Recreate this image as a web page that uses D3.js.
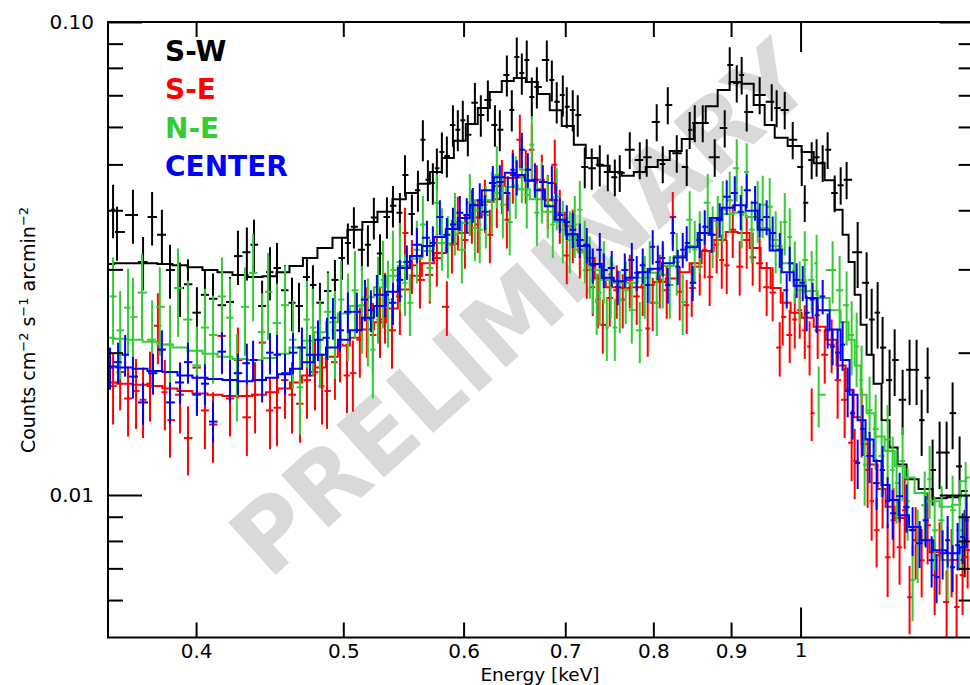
<!DOCTYPE html>
<html>
<head>
<meta charset="utf-8">
<script src="https://cdn.jsdelivr.net/npm/d3@7"></script>
<style>
  body { margin: 0; background: #fff; }
  svg { display: block; font-family: "DejaVu Sans", sans-serif; }
</style>
</head>
<body>
<div id="chart"></div>
<script>
// Spectra: [energy keV, counts, 1-sigma error]
const swData = [
  [0.3527,0.0401,0.0052],[0.3548,0.0360,0.0047],[0.3635,0.0391,0.0051],[0.3691,0.0311,0.0040],
  [0.3742,0.0387,0.0050],[0.3798,0.0355,0.0046],[0.3845,0.0299,0.0039],[0.3904,0.0274,0.0036],
  [0.3951,0.0279,0.0036],[0.4005,0.0243,0.0032],[0.4054,0.0265,0.0034],[0.4104,0.0260,0.0034],
  [0.4160,0.0252,0.0033],[0.4211,0.0256,0.0033],[0.4262,0.0320,0.0042],[0.4320,0.0326,0.0042],
  [0.4367,0.0338,0.0044],[0.4421,0.0251,0.0033],[0.4474,0.0296,0.0038],[0.4522,0.0302,0.0039],
  [0.4577,0.0271,0.0035],[0.4626,0.0255,0.0033],[0.4675,0.0251,0.0030],[0.4732,0.0289,0.0029],
  [0.4775,0.0278,0.0028],[0.4826,0.0255,0.0026],[0.4885,0.0270,0.0027],[0.4937,0.0285,0.0029],
  [0.4990,0.0317,0.0032],[0.5035,0.0341,0.0034],[0.5081,0.0369,0.0037],[0.5143,0.0330,0.0033],
  [0.5190,0.0338,0.0034],[0.5237,0.0386,0.0039],[0.5286,0.0324,0.0032],[0.5342,0.0387,0.0039],
  [0.5391,0.0409,0.0041],[0.5448,0.0395,0.0040],[0.5490,0.0475,0.0048],[0.5548,0.0393,0.0039],
  [0.5599,0.0441,0.0044],[0.5641,0.0564,0.0056],[0.5684,0.0464,0.0046],[0.5727,0.0457,0.0046],
  [0.5762,0.0491,0.0049],[0.5806,0.0531,0.0053],[0.5850,0.0521,0.0052],[0.5904,0.0606,0.0061],
  [0.5948,0.0592,0.0059],[0.5993,0.0620,0.0062],[0.6039,0.0578,0.0058],[0.6104,0.0675,0.0068],
  [0.6159,0.0636,0.0064],[0.6225,0.0684,0.0068],[0.6292,0.0606,0.0061],[0.6339,0.0592,0.0059],
  [0.6407,0.0773,0.0077],[0.6455,0.0652,0.0065],[0.6504,0.0843,0.0084],[0.6554,0.0780,0.0078],
  [0.6603,0.0831,0.0083],[0.6654,0.0694,0.0069],[0.6705,0.0729,0.0073],[0.6807,0.0831,0.0083],
  [0.6859,0.0754,0.0075],[0.6910,0.0678,0.0068],[0.6974,0.0701,0.0070],[0.7016,0.0662,0.0066],
  [0.7080,0.0652,0.0065],[0.7134,0.0636,0.0064],[0.7210,0.0494,0.0049],[0.7287,0.0491,0.0049],
  [0.7376,0.0499,0.0050],[0.7466,0.0482,0.0043],[0.7546,0.0470,0.0042],[0.7603,0.0480,0.0043],
  [0.7719,0.0537,0.0048],[0.7837,0.0511,0.0046],[0.7920,0.0518,0.0047],[0.8041,0.0615,0.0055],
  [0.8115,0.0501,0.0045],[0.8177,0.0668,0.0060],[0.8289,0.0528,0.0048],[0.8415,0.0494,0.0044],
  [0.8453,0.0592,0.0053],[0.8518,0.0612,0.0055],[0.8622,0.0612,0.0055],[0.8780,0.0518,0.0047],
  [0.8914,0.0597,0.0054],[0.8982,0.0811,0.0073],[0.9078,0.0743,0.0067],[0.9146,0.0773,0.0070],
  [0.9216,0.0645,0.0058],[0.9399,0.0701,0.0063],[0.9572,0.0678,0.0061],[0.9644,0.0658,0.0059],
  [0.9763,0.0652,0.0059],[0.9882,0.0564,0.0051],[1.0018,0.0494,0.0044],[1.0064,0.0415,0.0037],
  [1.0170,0.0511,0.0046],[1.0246,0.0518,0.0047],[1.0341,0.0504,0.0045],[1.0419,0.0537,0.0048],
  [1.0531,0.0435,0.0039],[1.0627,0.0452,0.0041],[1.0723,0.0464,0.0042],[1.0904,0.0326,0.0052],
  [1.1053,0.0281,0.0045],[1.1138,0.0235,0.0038],[1.1239,0.0243,0.0039],[1.1324,0.0205,0.0033],
  [1.1445,0.0175,0.0028],[1.1533,0.0193,0.0031],[1.1673,0.0159,0.0025],[1.1797,0.0184,0.0029],
  [1.1923,0.0184,0.0029],[1.2015,0.0144,0.0023],[1.2124,0.0177,0.0028],[1.2216,0.0113,0.0018],
  [1.2346,0.0123,0.0020],[1.2478,0.0123,0.0020],[1.2592,0.0149,0.0024],[1.2726,0.0115,0.0018],
  [1.2824,0.0080,0.0013]
];

const seData = [
  [0.3527,0.0170,0.0029],[0.3565,0.0182,0.0031],[0.3608,0.0160,0.0027],[0.3652,0.0166,0.0028],
  [0.3691,0.0159,0.0027],[0.3730,0.0172,0.0029],[0.3775,0.0228,0.0039],[0.3815,0.0165,0.0028],
  [0.3845,0.0144,0.0024],[0.3904,0.0163,0.0028],[0.3951,0.0132,0.0022],[0.4005,0.0186,0.0032],
  [0.4054,0.0151,0.0026],[0.4104,0.0141,0.0024],[0.4160,0.0217,0.0037],[0.4211,0.0160,0.0027],
  [0.4262,0.0193,0.0033],[0.4320,0.0146,0.0025],[0.4374,0.0163,0.0028],[0.4421,0.0210,0.0036],
  [0.4474,0.0151,0.0026],[0.4522,0.0153,0.0026],[0.4577,0.0175,0.0030],[0.4626,0.0163,0.0028],
  [0.4682,0.0156,0.0027],[0.4732,0.0175,0.0030],[0.4790,0.0182,0.0031],[0.4841,0.0170,0.0029],
  [0.4878,0.0166,0.0028],[0.4937,0.0191,0.0032],[0.4975,0.0208,0.0035],[0.5028,0.0179,0.0030],
  [0.5073,0.0181,0.0031],[0.5127,0.0213,0.0036],[0.5182,0.0235,0.0040],[0.5229,0.0218,0.0037],
  [0.5286,0.0235,0.0040],[0.5326,0.0252,0.0043],[0.5383,0.0223,0.0038],[0.5448,0.0263,0.0045],
  [0.5490,0.0358,0.0047],[0.5548,0.0306,0.0040],[0.5616,0.0285,0.0037],[0.5701,0.0292,0.0038],
  [0.5762,0.0317,0.0041],[0.5850,0.0250,0.0033],[0.5895,0.0338,0.0044],[0.5948,0.0378,0.0049],
  [0.6012,0.0346,0.0045],[0.6076,0.0391,0.0051],[0.6131,0.0373,0.0048],[0.6197,0.0411,0.0053],
  [0.6244,0.0355,0.0046],[0.6310,0.0422,0.0055],[0.6359,0.0452,0.0059],[0.6407,0.0382,0.0050],
  [0.6465,0.0475,0.0062],[0.6534,0.0564,0.0073],[0.6593,0.0475,0.0062],[0.6654,0.0537,0.0070],
  [0.6705,0.0441,0.0057],[0.6756,0.0464,0.0060],[0.6817,0.0420,0.0055],[0.6890,0.0499,0.0065],
  [0.6942,0.0391,0.0051],[0.7016,0.0321,0.0042],[0.7080,0.0355,0.0046],[0.7156,0.0330,0.0043],
  [0.7232,0.0299,0.0039],[0.7298,0.0275,0.0036],[0.7354,0.0259,0.0034],[0.7410,0.0229,0.0030],
  [0.7488,0.0261,0.0034],[0.7568,0.0271,0.0035],[0.7637,0.0259,0.0034],[0.7719,0.0285,0.0037],
  [0.7801,0.0263,0.0034],[0.7872,0.0275,0.0036],[0.7932,0.0225,0.0029],[0.7992,0.0255,0.0033],
  [0.8078,0.0285,0.0037],[0.8164,0.0271,0.0035],[0.8239,0.0387,0.0050],[0.8326,0.0269,0.0035],
  [0.8415,0.0252,0.0033],[0.8479,0.0274,0.0036],[0.8583,0.0304,0.0040],[0.8648,0.0330,0.0043],
  [0.8713,0.0289,0.0038],[0.8806,0.0338,0.0044],[0.8874,0.0314,0.0041],[0.8941,0.0306,0.0040],
  [0.9023,0.0364,0.0047],[0.9119,0.0304,0.0040],[0.9216,0.0346,0.0045],[0.9300,0.0318,0.0041],
  [0.9399,0.0309,0.0040],[0.9499,0.0275,0.0036],[0.9586,0.0268,0.0035],[0.9689,0.0205,0.0027],
  [0.9733,0.0238,0.0031],[0.9837,0.0218,0.0028],[0.9912,0.0235,0.0031],[0.9987,0.0246,0.0032],
  [1.0064,0.0223,0.0029],[1.0138,0.0206,0.0027],[1.0170,0.0149,0.0019],[1.0263,0.0223,0.0029],
  [1.0373,0.0198,0.0026],[1.0482,0.0208,0.0027],[1.0578,0.0175,0.0030],[1.0691,0.0159,0.0027],
  [1.0805,0.0129,0.0022],[1.0855,0.0118,0.0020],[1.0969,0.0144,0.0024],[1.1070,0.0113,0.0019],
  [1.1138,0.00971,0.0017],[1.1222,0.00843,0.0014],[1.1324,0.0103,0.0018],[1.1411,0.00739,0.0013],
  [1.1514,0.00885,0.0015],[1.1620,0.00776,0.0013],[1.1709,0.00929,0.0016],[1.1797,0.00608,0.0010],
  [1.1906,0.00803,0.0014],[1.2015,0.00728,0.0012],[1.2124,0.00863,0.0015],[1.2254,0.00677,0.0012],
  [1.2346,0.00746,0.0013],[1.2478,0.00594,0.0010],[1.2573,0.00728,0.0012],[1.2668,0.00580,0.0010],
  [1.2784,0.00677,0.0012],[1.2882,0.00765,0.0013]
];

const neData = [
  [0.3527,0.0263,0.0055],[0.3565,0.0223,0.0047],[0.3608,0.0249,0.0052],[0.3635,0.0238,0.0050],
  [0.3685,0.0268,0.0056],[0.3742,0.0213,0.0045],[0.3786,0.0250,0.0053],[0.3845,0.0208,0.0044],
  [0.3892,0.0274,0.0058],[0.3951,0.0235,0.0049],[0.4005,0.0188,0.0039],[0.4054,0.0226,0.0047],
  [0.4104,0.0218,0.0046],[0.4160,0.0263,0.0055],[0.4211,0.0237,0.0050],[0.4255,0.0181,0.0038],
  [0.4308,0.0250,0.0053],[0.4361,0.0295,0.0062],[0.4421,0.0221,0.0046],[0.4461,0.0269,0.0056],
  [0.4522,0.0231,0.0049],[0.4577,0.0252,0.0053],[0.4633,0.0213,0.0045],[0.4682,0.0169,0.0035],
  [0.4732,0.0235,0.0049],[0.4775,0.0226,0.0047],[0.4826,0.0213,0.0045],[0.4885,0.0244,0.0051],
  [0.4937,0.0223,0.0047],[0.4983,0.0259,0.0054],[0.5035,0.0243,0.0051],[0.5089,0.0271,0.0057],
  [0.5143,0.0252,0.0053],[0.5190,0.0237,0.0050],[0.5229,0.0203,0.0043],[0.5270,0.0264,0.0055],
  [0.5310,0.0285,0.0060],[0.5350,0.0259,0.0054],[0.5391,0.0299,0.0063],[0.5448,0.0311,0.0065],
  [0.5490,0.0281,0.0042],[0.5531,0.0255,0.0038],[0.5590,0.0330,0.0050],[0.5641,0.0373,0.0056],
  [0.5701,0.0302,0.0045],[0.5762,0.0415,0.0062],[0.5806,0.0351,0.0053],[0.5859,0.0338,0.0051],
  [0.5922,0.0378,0.0057],[0.5984,0.0330,0.0050],[0.6057,0.0415,0.0062],[0.6104,0.0367,0.0055],
  [0.6149,0.0364,0.0055],[0.6206,0.0391,0.0059],[0.6263,0.0420,0.0063],[0.6310,0.0475,0.0071],
  [0.6368,0.0411,0.0062],[0.6435,0.0378,0.0057],[0.6494,0.0452,0.0068],[0.6554,0.0487,0.0073],
  [0.6603,0.0431,0.0065],[0.6654,0.0550,0.0083],[0.6705,0.0395,0.0059],[0.6756,0.0441,0.0066],
  [0.6817,0.0411,0.0062],[0.6869,0.0373,0.0056],[0.6910,0.0427,0.0064],[0.6974,0.0364,0.0055],
  [0.7048,0.0346,0.0052],[0.7102,0.0373,0.0056],[0.7156,0.0401,0.0060],[0.7210,0.0330,0.0050],
  [0.7265,0.0306,0.0046],[0.7298,0.0285,0.0043],[0.7342,0.0256,0.0038],[0.7376,0.0268,0.0040],
  [0.7421,0.0299,0.0045],[0.7455,0.0226,0.0034],[0.7500,0.0278,0.0042],[0.7546,0.0226,0.0034],
  [0.7603,0.0259,0.0039],[0.7672,0.0271,0.0041],[0.7743,0.0246,0.0037],[0.7837,0.0223,0.0033],
  [0.7897,0.0278,0.0042],[0.7956,0.0299,0.0045],[0.8041,0.0255,0.0038],[0.8115,0.0292,0.0044],
  [0.8202,0.0278,0.0042],[0.8289,0.0311,0.0047],[0.8364,0.0256,0.0038],[0.8453,0.0382,0.0057],
  [0.8518,0.0330,0.0050],[0.8583,0.0346,0.0052],[0.8687,0.0415,0.0062],[0.8753,0.0355,0.0053],
  [0.8820,0.0373,0.0056],[0.8887,0.0401,0.0060],[0.8982,0.0420,0.0063],[0.9078,0.0491,0.0074],
  [0.9146,0.0391,0.0059],[0.9216,0.0482,0.0072],[0.9286,0.0364,0.0055],[0.9371,0.0401,0.0060],
  [0.9442,0.0411,0.0062],[0.9543,0.0407,0.0061],[0.9630,0.0346,0.0052],[0.9704,0.0330,0.0050],
  [0.9763,0.0378,0.0057],[0.9837,0.0351,0.0053],[0.9912,0.0299,0.0045],[0.9987,0.0271,0.0041],
  [1.0064,0.0314,0.0047],[1.0170,0.0285,0.0043],[1.0246,0.0309,0.0046],[1.0278,0.0163,0.0024],
  [1.0498,0.0299,0.0045],[1.0610,0.0271,0.0049],[1.0723,0.0252,0.0045],[1.0805,0.0218,0.0039],
  [1.0887,0.0206,0.0037],[1.0969,0.0175,0.0032],[1.1020,0.0116,0.0021],[1.1103,0.0151,0.0027],
  [1.1205,0.0138,0.0025],[1.1308,0.0121,0.0022],[1.1411,0.0131,0.0024],[1.1498,0.0113,0.0020],
  [1.1567,0.0106,0.0019],[1.1673,0.0118,0.0021],[1.1762,0.00971,0.0017],[1.1851,0.00661,0.0012],
  [1.1942,0.00791,0.0014],[1.2070,0.00952,0.0017],[1.2161,0.0108,0.0019],[1.2254,0.00843,0.0015],
  [1.2384,0.00885,0.0016],[1.2497,0.00728,0.0013],[1.2592,0.00929,0.0017],[1.2726,0.00843,0.0015],
  [1.2843,0.00995,0.0018]
];

const ctData = [
  [0.3511,0.0186,0.0019],[0.3554,0.0191,0.0019],[0.3592,0.0198,0.0020],[0.3635,0.0178,0.0018],
  [0.3691,0.0157,0.0016],[0.3747,0.0181,0.0018],[0.3798,0.0203,0.0020],[0.3845,0.0157,0.0016],
  [0.3904,0.0173,0.0017],[0.3951,0.0191,0.0019],[0.4005,0.0163,0.0016],[0.4054,0.0172,0.0017],
  [0.4104,0.0143,0.0014],[0.4160,0.0201,0.0020],[0.4211,0.0175,0.0018],[0.4262,0.0181,0.0018],
  [0.4320,0.0190,0.0019],[0.4361,0.0193,0.0019],[0.4421,0.0175,0.0018],[0.4474,0.0200,0.0020],
  [0.4522,0.0198,0.0020],[0.4577,0.0181,0.0018],[0.4633,0.0200,0.0020],[0.4696,0.0205,0.0021],
  [0.4753,0.0198,0.0020],[0.4812,0.0213,0.0021],[0.4878,0.0215,0.0022],[0.4922,0.0237,0.0024],
  [0.4975,0.0223,0.0022],[0.5035,0.0244,0.0024],[0.5104,0.0244,0.0024],[0.5167,0.0259,0.0026],
  [0.5214,0.0246,0.0025],[0.5261,0.0265,0.0027],[0.5326,0.0265,0.0027],[0.5391,0.0255,0.0026],
  [0.5448,0.0285,0.0029],[0.5506,0.0311,0.0026],[0.5590,0.0338,0.0029],[0.5676,0.0350,0.0030],
  [0.5727,0.0341,0.0029],[0.5788,0.0387,0.0033],[0.5850,0.0355,0.0030],[0.5904,0.0373,0.0032],
  [0.5966,0.0395,0.0034],[0.6029,0.0391,0.0033],[0.6085,0.0411,0.0035],[0.6149,0.0420,0.0036],
  [0.6197,0.0397,0.0034],[0.6272,0.0457,0.0039],[0.6339,0.0459,0.0039],[0.6416,0.0435,0.0037],
  [0.6465,0.0487,0.0041],[0.6504,0.0470,0.0040],[0.6554,0.0537,0.0046],[0.6614,0.0487,0.0041],
  [0.6685,0.0464,0.0039],[0.6766,0.0459,0.0039],[0.6859,0.0457,0.0039],[0.6900,0.0420,0.0036],
  [0.6942,0.0391,0.0033],[0.7016,0.0378,0.0032],[0.7080,0.0364,0.0031],[0.7156,0.0346,0.0029],
  [0.7232,0.0338,0.0029],[0.7298,0.0306,0.0026],[0.7376,0.0330,0.0028],[0.7421,0.0299,0.0025],
  [0.7511,0.0302,0.0026],[0.7580,0.0275,0.0023],[0.7661,0.0299,0.0025],[0.7743,0.0314,0.0027],
  [0.7801,0.0295,0.0025],[0.7872,0.0306,0.0026],[0.7932,0.0278,0.0024],[0.7992,0.0335,0.0028],
  [0.8054,0.0311,0.0026],[0.8115,0.0317,0.0027],[0.8177,0.0278,0.0024],[0.8239,0.0358,0.0030],
  [0.8301,0.0304,0.0026],[0.8364,0.0330,0.0028],[0.8415,0.0341,0.0029],[0.8492,0.0281,0.0024],
  [0.8583,0.0346,0.0029],[0.8648,0.0369,0.0031],[0.8740,0.0355,0.0030],[0.8847,0.0382,0.0032],
  [0.8941,0.0427,0.0036],[0.9051,0.0435,0.0037],[0.9133,0.0397,0.0034],[0.9216,0.0441,0.0037],
  [0.9334,0.0415,0.0035],[0.9399,0.0382,0.0032],[0.9499,0.0387,0.0033],[0.9586,0.0358,0.0030],
  [0.9689,0.0330,0.0028],[0.9792,0.0271,0.0023],[0.9837,0.0309,0.0026],[0.9941,0.0285,0.0024],
  [1.0033,0.0281,0.0024],[1.0093,0.0243,0.0021],[1.0185,0.0259,0.0022],[1.0246,0.0240,0.0020],
  [1.0341,0.0263,0.0022],[1.0419,0.0223,0.0019],[1.0498,0.0206,0.0018],[1.0578,0.0200,0.0024],
  [1.0658,0.0208,0.0025],[1.0740,0.0166,0.0020],[1.0822,0.0149,0.0018],[1.0904,0.0117,0.0014],
  [1.0987,0.0138,0.0017],[1.1103,0.0121,0.0015],[1.1222,0.0106,0.0013],[1.1324,0.0113,0.0014],
  [1.1411,0.00971,0.0012],[1.1498,0.00915,0.0011],[1.1620,0.00995,0.0012],[1.1744,0.00943,0.0011],
  [1.1851,0.00843,0.0010],[1.1978,0.00791,0.0009],[1.2088,0.00885,0.0011],[1.2198,0.00728,0.0009],
  [1.2290,0.00671,0.0008],[1.2403,0.00753,0.0009],[1.2497,0.00803,0.0010],[1.2592,0.00704,0.0008],
  [1.2688,0.00783,0.0009],[1.2784,0.00815,0.0010],[1.2862,0.00885,0.0011]
];

// Folded best-fit models: [energy keV, counts]
const swModel = [
  [0.3500,0.0308],[0.3565,0.0309],[0.3647,0.0309],[0.3730,0.0309],[0.3815,0.0308],[0.3904,0.0306],
  [0.3993,0.0303],[0.4085,0.0299],[0.4179,0.0296],[0.4275,0.0292],[0.4374,0.0289],[0.4475,0.0290],
  [0.4563,0.0296],[0.4654,0.0305],[0.4753,0.0317],[0.4863,0.0333],[0.4975,0.0350],[0.5088,0.0364],
  [0.5206,0.0378],[0.5326,0.0397],[0.5448,0.0422],[0.5547,0.0435],[0.5650,0.0455],[0.5753,0.0482],
  [0.5859,0.0516],[0.5966,0.0561],[0.6075,0.0609],[0.6187,0.0658],[0.6300,0.0711],[0.6416,0.0750],
  [0.6534,0.0761],[0.6654,0.0747],[0.6776,0.0704],[0.6899,0.0651],[0.7027,0.0603],[0.7156,0.0550],
  [0.7287,0.0516],[0.7420,0.0497],[0.7556,0.0482],[0.7696,0.0473],[0.7837,0.0482],[0.7980,0.0494],
  [0.8127,0.0511],[0.8276,0.0534],[0.8428,0.0566],[0.8583,0.0612],[0.8739,0.0664],[0.8900,0.0718],
  [0.9063,0.0747],[0.9230,0.0740],[0.9399,0.0668],[0.9543,0.0606],[0.9689,0.0569],[0.9925,0.0547],
  [1.0108,0.0531],[1.0294,0.0503],[1.0450,0.0463],[1.0610,0.0401],[1.0706,0.0355],[1.0805,0.0311],
  [1.0904,0.0265],[1.1003,0.0229],[1.1103,0.0198],[1.1239,0.0172],[1.1374,0.0144],[1.1514,0.0126],
  [1.1655,0.0116],[1.1833,0.0108],[1.2086,0.0103],[1.2346,0.00985],[1.2610,0.00990],[1.2882,0.0102]
];

const seModel = [
  [0.3500,0.0173],[0.3592,0.0172],[0.3674,0.0171],[0.3758,0.0170],[0.3845,0.0168],[0.3933,0.0166],
  [0.4023,0.0164],[0.4116,0.0163],[0.4211,0.0162],[0.4307,0.0162],[0.4407,0.0163],[0.4488,0.0165],
  [0.4570,0.0168],[0.4654,0.0173],[0.4739,0.0179],[0.4827,0.0186],[0.4914,0.0196],[0.5005,0.0207],
  [0.5096,0.0215],[0.5190,0.0224],[0.5286,0.0232],[0.5382,0.0248],[0.5481,0.0272],[0.5582,0.0291],
  [0.5684,0.0309],[0.5788,0.0325],[0.5894,0.0340],[0.6002,0.0358],[0.6112,0.0386],[0.6225,0.0417],
  [0.6339,0.0450],[0.6435,0.0468],[0.6534,0.0470],[0.6634,0.0461],[0.6735,0.0443],[0.6838,0.0421],
  [0.6942,0.0395],[0.7048,0.0370],[0.7156,0.0346],[0.7265,0.0317],[0.7376,0.0287],[0.7511,0.0275],
  [0.7648,0.0274],[0.7789,0.0275],[0.7932,0.0278],[0.8078,0.0282],[0.8226,0.0287],[0.8376,0.0296],
  [0.8529,0.0309],[0.8687,0.0328],[0.8847,0.0346],[0.9009,0.0360],[0.9174,0.0358],[0.9342,0.0333],
  [0.9484,0.0302],[0.9630,0.0274],[0.9778,0.0255],[0.9925,0.0243],[1.0108,0.0237],[1.0294,0.0227],
  [1.0482,0.0213],[1.0642,0.0188],[1.0772,0.0167],[1.0904,0.0146],[1.1036,0.0128],[1.1170,0.0116],
  [1.1307,0.0103],[1.1445,0.00945],[1.1620,0.00894],[1.1833,0.00845],[1.2050,0.00803],[1.2270,0.00757],
  [1.2497,0.00729],[1.2726,0.00729],[1.2882,0.00740]
];

const neModel = [
  [0.3500,0.0215],[0.3565,0.0214],[0.3647,0.0213],[0.3730,0.0211],[0.3815,0.0208],[0.3904,0.0205],
  [0.3993,0.0202],[0.4085,0.0199],[0.4179,0.0196],[0.4275,0.0194],[0.4374,0.0193],[0.4475,0.0195],
  [0.4563,0.0199],[0.4654,0.0205],[0.4739,0.0212],[0.4827,0.0221],[0.4914,0.0232],[0.5005,0.0242],
  [0.5096,0.0251],[0.5190,0.0262],[0.5286,0.0275],[0.5382,0.0291],[0.5481,0.0305],[0.5582,0.0316],
  [0.5684,0.0328],[0.5788,0.0341],[0.5894,0.0355],[0.6002,0.0376],[0.6112,0.0400],[0.6225,0.0420],
  [0.6339,0.0435],[0.6454,0.0448],[0.6573,0.0443],[0.6695,0.0422],[0.6817,0.0397],[0.6942,0.0378],
  [0.7069,0.0353],[0.7198,0.0326],[0.7330,0.0299],[0.7466,0.0285],[0.7603,0.0281],[0.7742,0.0281],
  [0.7884,0.0288],[0.8029,0.0295],[0.8177,0.0305],[0.8326,0.0320],[0.8479,0.0336],[0.8635,0.0358],
  [0.8794,0.0380],[0.8955,0.0393],[0.9119,0.0395],[0.9286,0.0387],[0.9456,0.0367],[0.9630,0.0336],
  [0.9807,0.0309],[0.9987,0.0285],[1.0169,0.0270],[1.0356,0.0261],[1.0546,0.0246],[1.0706,0.0232],
  [1.0805,0.0213],[1.0904,0.0188],[1.1003,0.0163],[1.1103,0.0149],[1.1273,0.0133],[1.1445,0.0124],
  [1.1620,0.0115],[1.1797,0.0109],[1.1978,0.0101],[1.2216,0.00971],[1.2478,0.00945],[1.2688,0.00954],
  [1.2785,0.0107],[1.2921,0.0109]
];

const ctModel = [
  [0.3500,0.0187],[0.3592,0.0186],[0.3674,0.0185],[0.3758,0.0183],[0.3845,0.0182],[0.3933,0.0179],
  [0.4023,0.0177],[0.4116,0.0176],[0.4211,0.0175],[0.4307,0.0174],[0.4407,0.0175],[0.4488,0.0177],
  [0.4570,0.0180],[0.4654,0.0185],[0.4739,0.0191],[0.4827,0.0198],[0.4914,0.0205],[0.5005,0.0213],
  [0.5096,0.0223],[0.5190,0.0237],[0.5286,0.0251],[0.5382,0.0269],[0.5481,0.0302],[0.5582,0.0320],
  [0.5684,0.0336],[0.5788,0.0351],[0.5894,0.0365],[0.6002,0.0385],[0.6112,0.0410],[0.6225,0.0441],
  [0.6339,0.0470],[0.6435,0.0480],[0.6534,0.0475],[0.6634,0.0463],[0.6735,0.0441],[0.6838,0.0408],
  [0.6942,0.0382],[0.7069,0.0356],[0.7198,0.0336],[0.7330,0.0308],[0.7466,0.0288],[0.7603,0.0283],
  [0.7742,0.0288],[0.7884,0.0296],[0.8029,0.0301],[0.8177,0.0309],[0.8326,0.0318],[0.8479,0.0334],
  [0.8635,0.0358],[0.8794,0.0385],[0.8955,0.0405],[0.9119,0.0410],[0.9286,0.0399],[0.9456,0.0364],
  [0.9630,0.0329],[0.9807,0.0296],[0.9987,0.0277],[1.0169,0.0261],[1.0356,0.0246],[1.0546,0.0224],
  [1.0706,0.0193],[1.0837,0.0163],[1.0969,0.0144],[1.1103,0.0131],[1.1239,0.0118],[1.1374,0.0105],
  [1.1514,0.00976],[1.1690,0.00906],[1.1886,0.00856],[1.2106,0.00803],[1.2346,0.00765],[1.2591,0.00753],
  [1.2863,0.00776]
];

const regionNames = ["S-W", "S-E", "N-E", "CENTER"];
const regionColors = ["#000000", "#ff0000", "#32cd32", "#0000ff"];

const xMinorTicks = [0.4, 0.5, 0.6, 0.7, 0.8, 0.9];
const xMajorTicks = [1];
const yMinorTicks = [0.006, 0.007, 0.008, 0.009, 0.02, 0.03, 0.04, 0.05, 0.06, 0.07, 0.08, 0.09];
const yMajorTicks = [0.01, 0.1];
const yTickLabels = ["0.01", "0.10"];

(function() {

// Layout
const W = 970, H = 685;
const plotLeft = 108, plotTop = 22, plotBottom = 637.5;
const plotRight = plotLeft + 1519 * Math.log10(1.3 / 0.35);

const svg = d3.select("#chart").append("svg")
    .attr("width", W)
    .attr("height", H);

const x = d3.scaleLog().domain([0.35, 1.3]).range([plotLeft, plotRight]);
const y = d3.scaleLog().domain([0.005, 0.1]).range([plotBottom, plotTop]);

svg.append("clipPath").attr("id", "plot-clip")
  .append("rect")
    .attr("x", plotLeft).attr("y", plotTop)
    .attr("width", plotRight - plotLeft).attr("height", plotBottom - plotTop);

// Watermark sits under the data
svg.append("text")
    .attr("transform", "translate(520,308) rotate(-42)")
    .attr("text-anchor", "middle")
    .attr("dy", "0.36em")
    .style("font-size", "97px")
    .style("font-weight", "bold")
    .style("fill", "#d9d9d9")
    .text("PRELIMINARY");

const plot = svg.append("g").attr("clip-path", "url(#plot-clip)");

// bin edges halfway (in log) between neighbouring channels
function binEdges(data, i) {
  const e = data[i][0];
  const prev = i > 0 ? data[i - 1][0] : e * e / data[i + 1][0];
  const next = i < data.length - 1 ? data[i + 1][0] : e * e / data[i - 1][0];
  return [Math.sqrt(prev * e), Math.sqrt(e * next)];
}

const modelLine = d3.line()
    .curve(d3.curveStep)
    .x(d => x(d[0]))
    .y(d => y(d[1]));

const groups = [
  { data: swData, model: swModel },
  { data: seData, model: seModel },
  { data: neData, model: neModel },
  { data: ctData, model: ctModel }
];

groups.forEach((grp, gi) => {
  const color = regionColors[gi];
  const g = plot.append("g");

  const pts = g.selectAll("g.pt")
    .data(grp.data)
    .enter().append("g")
      .attr("class", "pt");

  pts.append("line")
      .attr("x1", d => x(d[0])).attr("x2", d => x(d[0]))
      .attr("y1", d => y(Math.max(d[1] - d[2], 0.001)))
      .attr("y2", d => y(d[1] + d[2]))
      .attr("stroke", color)
      .attr("stroke-width", 2);

  pts.append("line")
      .attr("x1", (d, i) => x(binEdges(grp.data, i)[0]))
      .attr("x2", (d, i) => x(binEdges(grp.data, i)[1]))
      .attr("y1", d => y(d[1])).attr("y2", d => y(d[1]))
      .attr("stroke", color)
      .attr("stroke-width", 2);

  g.append("path")
      .datum(grp.model)
      .attr("fill", "none")
      .attr("stroke", color)
      .attr("stroke-width", 2)
      .attr("d", modelLine);
});

// Frame
svg.append("rect")
    .attr("x", plotLeft).attr("y", plotTop)
    .attr("width", plotRight - plotLeft).attr("height", plotBottom - plotTop)
    .attr("fill", "none")
    .attr("stroke", "#000")
    .attr("stroke-width", 2);

function styleAxis(sel) {
  sel.select(".domain").remove();
  sel.selectAll("line").attr("stroke", "#000").attr("stroke-width", 2);
  sel.selectAll("text")
      .attr("fill", "#000")
      .style("font-size", "20px")
      .style("font-family", "'DejaVu Sans', sans-serif");
}

// Bottom axis
svg.append("g")
    .attr("transform", `translate(0,${plotBottom})`)
    .call(d3.axisBottom(x).tickValues(xMinorTicks).tickSize(-15).tickPadding(6.5)
      .tickFormat(d3.format(".1f")))
    .call(styleAxis);
svg.append("g")
    .attr("transform", `translate(0,${plotBottom})`)
    .call(d3.axisBottom(x).tickValues(xMajorTicks).tickSize(-30).tickPadding(5.5)
      .tickFormat(d3.format("d")))
    .call(styleAxis);

// Top axis
svg.append("g")
    .attr("transform", `translate(0,${plotTop})`)
    .call(d3.axisTop(x).tickValues(xMinorTicks).tickSize(-15).tickFormat(""))
    .call(styleAxis);
svg.append("g")
    .attr("transform", `translate(0,${plotTop})`)
    .call(d3.axisTop(x).tickValues(xMajorTicks).tickSize(-30).tickFormat(""))
    .call(styleAxis);

// Left axis
svg.append("g")
    .attr("transform", `translate(${plotLeft},0)`)
    .call(d3.axisLeft(y).tickValues(yMinorTicks).tickSize(-15).tickFormat(""))
    .call(styleAxis);
svg.append("g")
    .attr("transform", `translate(${plotLeft},0)`)
    .call(d3.axisLeft(y).tickValues(yMajorTicks).tickSize(-34).tickPadding(14)
      .tickFormat((d, i) => yTickLabels[i]))
    .call(styleAxis);

// Right axis
svg.append("g")
    .attr("transform", `translate(${plotRight},0)`)
    .call(d3.axisRight(y).tickValues(yMinorTicks).tickSize(-15).tickFormat(""))
    .call(styleAxis);
svg.append("g")
    .attr("transform", `translate(${plotRight},0)`)
    .call(d3.axisRight(y).tickValues(yMajorTicks).tickSize(-34).tickFormat(""))
    .call(styleAxis);

// Axis titles
svg.append("text")
    .attr("x", 540).attr("y", 680.8)
    .attr("text-anchor", "middle")
    .style("font-size", "18.5px")
    .text("Energy [keV]");

const yTitle = svg.append("text")
    .attr("transform", "translate(35,330) rotate(-90)")
    .attr("text-anchor", "middle")
    .style("font-size", "19px");
const parts = [["Counts cm", ""], ["\u22122", "sup"], [" s", ""], ["\u22121", "sup"], [" arcmin", ""], ["\u22122", "sup"]];
parts.forEach(p => {
  const t = yTitle.append("tspan").text(p[0]);
  if (p[1] === "sup") t.attr("baseline-shift", "7").style("font-size", "13px");
});

// Legend
regionNames.forEach((name, i) => {
  svg.append("text")
      .attr("x", 165)
      .attr("y", 61 + i * 38.3)
      .style("font-size", "28px")
      .style("font-weight", "bold")
      .style("fill", regionColors[i])
      .text(name);
});

})();
</script>
</body>
</html>
